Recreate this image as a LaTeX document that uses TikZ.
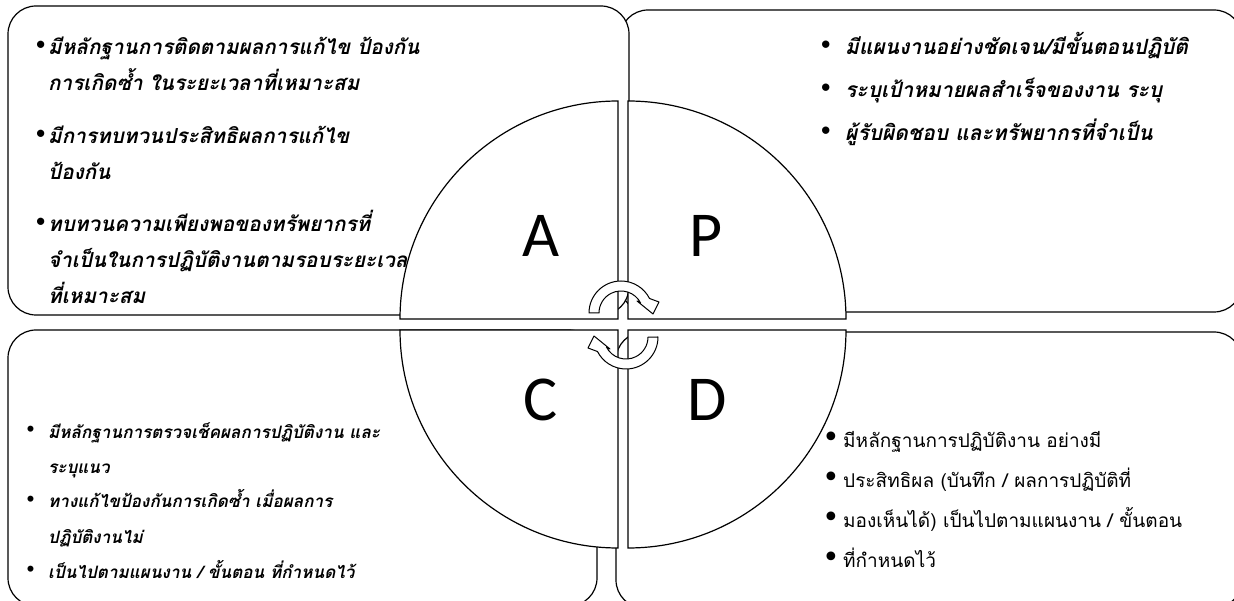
\documentclass[tikz,border=0pt]{standalone}
\usepackage{fontspec}
\setmainfont{Carlito}
\newfontfamily\thaifont[Script=Thai]{Loma}
\newfontfamily\dotfont{DejaVu Sans}
\usetikzlibrary{positioning}
\newcommand{\listdot}{\raisebox{2.5pt}{\dotfont •}}
\newcommand{\bigdot}{{\dotfont\fontsize{30}{30}\selectfont •}}

\begin{document}
\begin{tikzpicture}[x=1pt, y=-1pt,
  panel/.style={draw, line width=1.2pt, fill=white, rounded corners=28pt},
  quarter/.style={draw, line width=1.2pt, fill=white},
  turn/.style={draw, line width=1pt, fill=white, line join=round},
  letter/.style={inner sep=0pt, font=\fontsize{64}{64}\selectfont},
  boldlist/.style 2 args={anchor=base west, inner sep=0pt,
    font=\thaifont\fontsize{#1}{#2}\bfseries\itshape\selectfont},
  plainlist/.style 2 args={anchor=base west, inner sep=0pt,
    font=\thaifont\fontsize{#1}{#2}\selectfont}
]
\useasboundingbox (0,0) rectangle (1234,601);

% panels behind the circle
\draw[panel] (620,10) rectangle (1242,312);
\draw[panel] (8,6) rectangle (629,315);

\node[boldlist={20.7}{36}] (actlist) at (34,55) {%
  \begin{tabular}[t]{@{}p{14pt}@{}l@{}}
  \listdot & มีหลักฐานการติดตามผลการแก้ไข ป้องกัน\\
  & การเกิดซ้ำ ในระยะเวลาที่เหมาะสม\\[17pt]
  \listdot & มีการทบทวนประสิทธิผลการแก้ไข\\
  & ป้องกัน\\[16pt]
  \listdot & ทบทวนความเพียงพอของทรัพยากรที่\\
  & จำเป็นในการปฏิบัติงานตามรอบระยะเวลา\\
  & ที่เหมาะสม
  \end{tabular}};
\node[boldlist={21}{43}] (planlist) at (819,55) {%
  \begin{tabular}[t]{@{}p{26pt}@{}l@{}}
  \listdot & มีแผนงานอย่างชัดเจน/มีขั้นตอนปฏิบัติ\\
  \listdot & ระบุเป้าหมายผลสำเร็จของงาน ระบุ\\
  \listdot & ผู้รับผิดชอบ และทรัพยากรที่จำเป็น
  \end{tabular}};

\draw[panel] (8,330) rectangle (597,606);
\draw[panel] (616,332) rectangle (1242,608);

\node[boldlist={17.1}{35}] (checklist) at (25,438) {%
  \begin{tabular}[t]{@{}p{23pt}@{}l@{}}
  \listdot & มีหลักฐานการตรวจเช็คผลการปฏิบัติงาน และ\\
  & ระบุแนว\\
  \listdot & ทางแก้ไขป้องกันการเกิดซ้ำ เมื่อผลการ\\
  & ปฏิบัติงานไม่\\
  \listdot & เป็นไปตามแผนงาน / ขั้นตอน ที่กำหนดไว้
  \end{tabular}};

% the four quarters
\draw[quarter] (618,319) -- (400,319) arc[start angle=180, end angle=270, radius=218] -- cycle;
\draw[quarter] (628,319) -- (628,101) arc[start angle=270, end angle=360, radius=218] -- cycle;
\draw[quarter] (618,330) -- (400,330) arc[start angle=180, end angle=90, radius=218] -- cycle;
\draw[quarter] (628,330) -- (628,548) arc[start angle=90, end angle=0, radius=218] -- cycle;

\node[plainlist={19}{40}] (dolist) at (822,447) {%
  \begin{tabular}[t]{@{}p{21pt}@{}l@{}}
  \bigdot & มีหลักฐานการปฏิบัติงาน อย่างมี\\
  \bigdot & ประสิทธิผล (บันทึก / ผลการปฏิบัติที่\\
  \bigdot & มองเห็นได้) เป็นไปตามแผนงาน / ขั้นตอน\\
  \bigdot & ที่กำหนดไว้
  \end{tabular}};

\node[letter] (actA) at (541,235.5) {A};
\node[letter] (planP) at (706,235.5) {P};
\node[letter] (checkC) at (541,400) {C};
\node[letter] (doD) at (707,400) {D};

% cycle arrows
\draw[turn] (589,313) arc[start angle=180, end angle=333, radius=32]
  -- (659,302) -- (653,314) -- (637,301) -- (640.6,303)
  arc[start angle=333, end angle=180, radius=22] -- cycle;
\begin{scope}[rotate around={180:(623.5,325)}]
\draw[turn] (589,313) arc[start angle=180, end angle=333, radius=32]
  -- (659,302) -- (653,314) -- (637,301) -- (640.6,303)
  arc[start angle=333, end angle=180, radius=22] -- cycle;
\end{scope}
\end{tikzpicture}
\end{document}
